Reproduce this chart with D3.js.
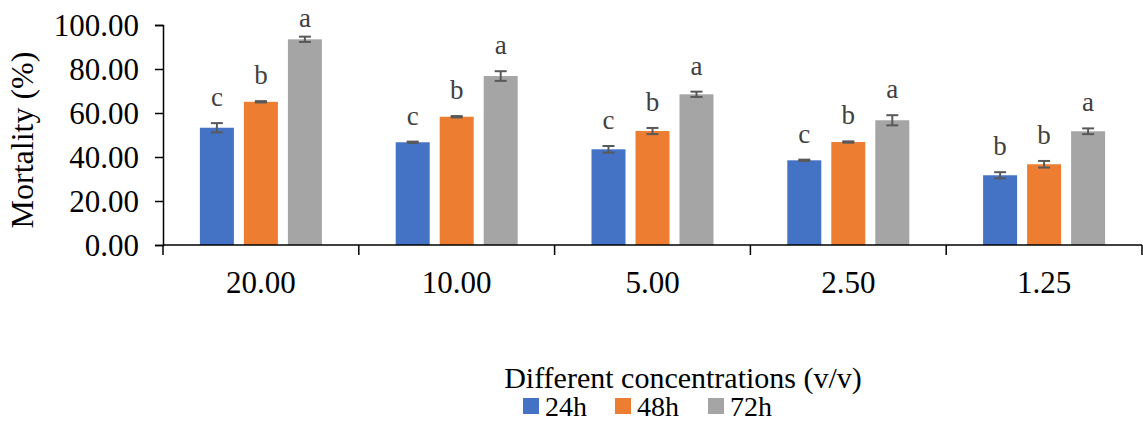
<!DOCTYPE html>
<html>
<head>
<meta charset="utf-8">
<script src="https://cdn.jsdelivr.net/npm/d3@7"></script>
<style>
  html, body { margin: 0; padding: 0; background: #fff; }
  svg text { font-family: "Liberation Serif", "Times New Roman", serif; }
</style>
</head>
<body>
<svg id="chart"></svg>
<script>
const categories = ["20.00", "10.00", "5.00", "2.50", "1.25"];
const series = ["24h", "48h", "72h"];
const mort24 = [53.3, 46.7, 43.5, 38.5, 31.7];
const mort48 = [65.1, 58.3, 51.8, 46.8, 36.7];
const mort72 = [93.5, 76.8, 68.5, 56.7, 51.7];
const err24 = [2.1, 0.3, 1.5, 0.3, 1.4];
const err48 = [0.3, 0.3, 1.4, 0.3, 1.5];
const err72 = [1.2, 2.2, 1.2, 2.3, 1.3];
const sig24 = ["c", "c", "c", "c", "b"];
const sig48 = ["b", "b", "b", "b", "b"];
const sig72 = ["a", "a", "a", "a", "a"];
const yTicks = [0, 20, 40, 60, 80, 100];

const width = 1143;
const height = 421;

const color = d3.scaleOrdinal()
    .domain(series)
    .range(["#4472C4", "#ED7D31", "#A5A5A5"]);

const values = [mort24, mort48, mort72];
const errors = [err24, err48, err72];
const letters = [sig24, sig48, sig72];

const rows = [];
categories.forEach((c, i) => {
    series.forEach((s, j) => {
        rows.push({cat: c, series: s, value: values[j][i], err: errors[j][i], sig: letters[j][i]});
    });
});

const svg = d3.select("#chart")
    .attr("width", width)
    .attr("height", height);

const x0 = d3.scaleBand()
    .domain(categories)
    .range([163, 1142]);

const groupW = 122;
const x1 = d3.scaleBand()
    .domain(series)
    .range([(x0.bandwidth() - groupW) / 2, (x0.bandwidth() + groupW) / 2])
    .paddingInner(10 / 44);

const y = d3.scaleLinear()
    .domain([0, 100])
    .range([245, 25]);

// bars
svg.append("g")
    .selectAll("rect")
    .data(rows)
    .enter()
    .append("rect")
    .attr("x", d => x0(d.cat) + x1(d.series))
    .attr("y", d => y(d.value))
    .attr("width", x1.bandwidth())
    .attr("height", d => y(0) - y(d.value))
    .attr("fill", d => color(d.series));

// error bars
const eb = svg.append("g")
    .attr("stroke", "#595959")
    .attr("stroke-width", 2)
    .selectAll("g")
    .data(rows)
    .enter()
    .append("g")
    .attr("transform", d => `translate(${x0(d.cat) + x1(d.series) + x1.bandwidth() / 2},0)`);

eb.append("line")
    .attr("y1", d => y(d.value - d.err))
    .attr("y2", d => y(d.value + d.err));
eb.append("line")
    .attr("x1", -6).attr("x2", 6)
    .attr("y1", d => y(d.value + d.err))
    .attr("y2", d => y(d.value + d.err));
eb.append("line")
    .attr("x1", -6).attr("x2", 6)
    .attr("y1", d => y(d.value - d.err))
    .attr("y2", d => y(d.value - d.err));

// significance letters (kept inside the top of the frame)
svg.append("g")
    .selectAll("text")
    .data(rows)
    .enter()
    .append("text")
    .attr("x", d => x0(d.cat) + x1(d.series) + x1.bandwidth() / 2)
    .attr("y", d => Math.max(y(d.value + d.err) - 17, 27))
    .attr("text-anchor", "middle")
    .attr("font-size", "27px")
    .attr("fill", "#404040")
    .text(d => d.sig);

// y axis
const yAxis = svg.append("g")
    .attr("transform", "translate(163,0)")
    .call(d3.axisLeft(y).tickValues(yTicks).tickFormat(d3.format(".2f")).tickSize(8).tickPadding(16));
yAxis.selectAll("path, line").attr("stroke", "#000").attr("stroke-width", 1.5);
yAxis.selectAll("text").attr("font-size", "31px").attr("fill", "#000")
    .attr("dy", "0.34em");

// x axis
const xAxis = svg.append("g")
    .attr("transform", "translate(0,245)");
xAxis.append("line")
    .attr("x1", x0.range()[0]).attr("x2", x0.range()[1])
    .attr("stroke", "#000").attr("stroke-width", 1.5);
xAxis.selectAll("line.tick")
    .data(categories.concat([null]))
    .enter()
    .append("line")
    .attr("class", "tick")
    .attr("x1", d => d === null ? x0.range()[1] : x0(d))
    .attr("x2", d => d === null ? x0.range()[1] : x0(d))
    .attr("y1", 0).attr("y2", 10)
    .attr("stroke", "#000").attr("stroke-width", 1.5);
xAxis.selectAll("text")
    .data(categories)
    .enter()
    .append("text")
    .attr("x", d => x0(d) + x0.bandwidth() / 2)
    .attr("y", 48)
    .attr("text-anchor", "middle")
    .attr("font-size", "31px")
    .attr("fill", "#000")
    .text(d => d);

// axis titles
svg.append("text")
    .attr("transform", "translate(33,140) rotate(-90)")
    .attr("text-anchor", "middle")
    .attr("font-size", "32px")
    .attr("fill", "#000")
    .text("Mortality (%)");

svg.append("text")
    .attr("x", 683)
    .attr("y", 388)
    .attr("text-anchor", "middle")
    .attr("font-size", "30px")
    .attr("fill", "#000")
    .text("Different concentrations (v/v)");

// legend
const legendX = [523, 615, 708];
const legend = svg.append("g")
    .selectAll("g")
    .data(series)
    .enter()
    .append("g")
    .attr("transform", (d, i) => `translate(${legendX[i]},398)`);
legend.append("rect")
    .attr("width", 16).attr("height", 16)
    .attr("fill", d => color(d));
legend.append("text")
    .attr("x", 22)
    .attr("y", 18)
    .attr("font-size", "28px")
    .attr("fill", "#000")
    .text(d => d);
</script>
</body>
</html>
